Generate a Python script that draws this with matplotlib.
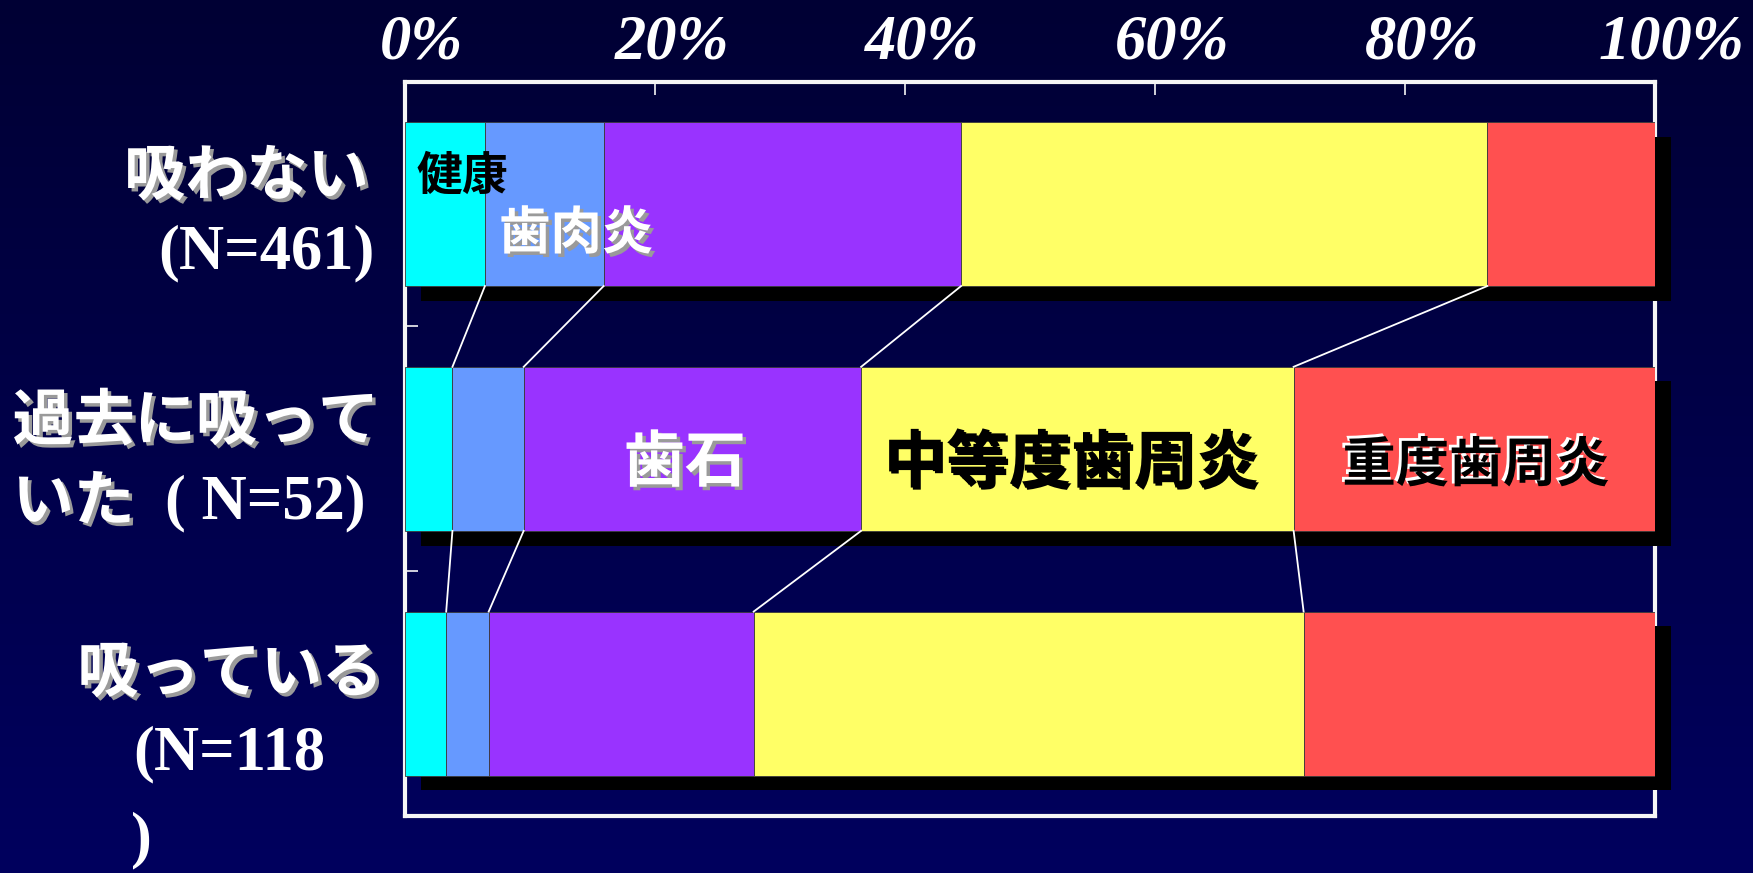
import numpy as np
import matplotlib
matplotlib.use("Agg")
import matplotlib.pyplot as plt
import matplotlib.patheffects as pe
from matplotlib.colors import LinearSegmentedColormap
from matplotlib.transforms import blended_transform_factory, ScaledTranslation

# --- data (percent shares) ---
groups     = ["吸わない", "過去に吸っていた", "吸っている"]
group_n    = [461, 52, 118]
categories = ["健康", "歯肉炎", "歯石", "中等度歯周炎", "重度歯周炎"]
healthy    = [6.4, 3.8, 3.3]
gingivitis = [9.5, 5.7, 3.4]
calculus   = [28.6, 27.0, 21.2]
moderate   = [42.1, 34.6, 44.0]
severe     = [13.4, 28.9, 28.1]
pct_ticks  = [0, 20, 40, 60, 80, 100]
tick_text  = ["0%", "20%", "40%", "60%", "80%", "100%"]

colors = ["#00FFFF", "#6699FF", "#9933FF", "#FFFF66", "#FF5050"]
JP = ["Noto Sans CJK JP", "DejaVu Sans"]
SERIF = ["Liberation Serif", "DejaVu Serif"]

fig = plt.figure(figsize=(17.53, 8.73), dpi=100)

# background gradient
bg = fig.add_axes([0, 0, 1, 1], zorder=-10)
cmap = LinearSegmentedColormap.from_list("bg", ["#000034", "#00005E"])
bg.imshow(np.linspace(0, 1, 256).reshape(-1, 1), cmap=cmap, aspect="auto",
          extent=[0, 1, 0, 1])
bg.set_axis_off()

ax = fig.add_axes([0.231, 0.0653, 0.713, 0.8412], zorder=1)
ax.set_facecolor("none")

series = [healthy, gingivitis, calculus, moderate, severe]
data = np.array(series)           # shape (5, 3)
cum = np.cumsum(data, axis=0)
y = np.arange(len(groups))
h = 0.67

# shadows
ax.barh(y + 0.06, cum[-1], left=1.3, height=h, color="black", zorder=2, clip_on=False)

left = np.zeros(len(groups))
for vals, c in zip(data, colors):
    ax.barh(y, vals, left=left, height=h, color=c, edgecolor="#3a3a3a",
            linewidth=0.6, zorder=3)
    left += vals

# series connector lines
for k in range(len(categories) - 1):
    for i in range(len(groups) - 1):
        ax.plot([cum[k, i], cum[k, i + 1]], [y[i] + h / 2, y[i + 1] - h / 2],
                color="white", lw=1.3, zorder=4)

ax.set_xlim(0, 100)
ax.set_ylim(2.5, -0.5)

for s in ax.spines.values():
    s.set_color("#F5F5F5")
    s.set_linewidth(3)
    s.set_zorder(1.5)

ax.set_xticks(pct_ticks)
ax.set_xticklabels([])
ax.tick_params(axis="x", direction="in", top=True, bottom=False, length=9,
               width=1.2, color="#F5F5F5")
ax.set_yticks([0.5, 1.5])
ax.set_yticklabels([])
ax.tick_params(axis="y", direction="in", left=True, right=False, length=9,
               width=1.2, color="#F5F5F5")

# top percent labels, shifted a bit right of the ticks
top = blended_transform_factory(ax.transData, ax.transAxes)
shift = ScaledTranslation(0.17, 0.09, fig.dpi_scale_trans)
for p, t in zip(pct_ticks, tick_text):
    ax.text(p, 1.0, t, transform=top + shift, ha="center", va="bottom",
            fontsize=45, color="white", family=SERIF, style="italic",
            fontweight="bold", clip_on=False)

# group labels on the left
shadow = [pe.withSimplePatchShadow(offset=(2.5, -2.5), shadow_rgbFace="#9a9a9a", alpha=1.0)]
lab = blended_transform_factory(ax.transAxes, ax.transData)
jp_kw = dict(transform=lab, color="white", family=JP, fontweight="bold",
             fontsize=44, va="center", path_effects=shadow, clip_on=False)
sf_kw = dict(transform=lab, color="white", family=SERIF, fontweight="bold",
             fontsize=45, va="center", clip_on=False)

ax.text(-0.029, -0.11, groups[0], ha="right", **jp_kw)
ax.text(-0.024, 0.20, f"(N={group_n[0]})", ha="right", **sf_kw)
ax.text(-0.314, 0.89, groups[1][:6], ha="left", **jp_kw)
ax.text(-0.314, 1.22, groups[1][6:], ha="left", **jp_kw)
ax.text(-0.192, 1.225, f"( N={group_n[1]})", ha="left", **sf_kw)
ax.text(-0.262, 1.92, groups[2], ha="left", **jp_kw)
ax.text(-0.217, 2.25, f"(N={group_n[2]}", ha="left", **sf_kw)
ax.text(-0.219, 2.6, ")", ha="left", **sf_kw)

# segment labels
ax.text(4.6, -0.11, categories[0], ha="center", va="center", fontsize=33,
        fontweight="bold", family=JP, color="black", zorder=5)
ax.text(13.7, 0.12, categories[1], ha="center", va="center", fontsize=37,
        fontweight="bold", family=JP, color="white", zorder=5, path_effects=shadow)
ax.text(22.4, 1.06, categories[2], ha="center", va="center", fontsize=44,
        fontweight="bold", family=JP, color="white", zorder=5, path_effects=shadow)
ax.text(53.3, 1.06, categories[3], ha="center", va="center", fontsize=45,
        fontweight="bold", family=JP, color="black", zorder=5,
        path_effects=[pe.withSimplePatchShadow(offset=(1.5, -1.5), shadow_rgbFace="black", alpha=1.0)])
ax.text(85.7, 1.07, categories[4], ha="center", va="center", fontsize=38.5,
        fontweight="bold", family=JP, color="black", zorder=5,
        path_effects=[pe.withSimplePatchShadow(offset=(-2, 2), shadow_rgbFace="white", alpha=1.0)])

fig.savefig("out.png", dpi=100)
